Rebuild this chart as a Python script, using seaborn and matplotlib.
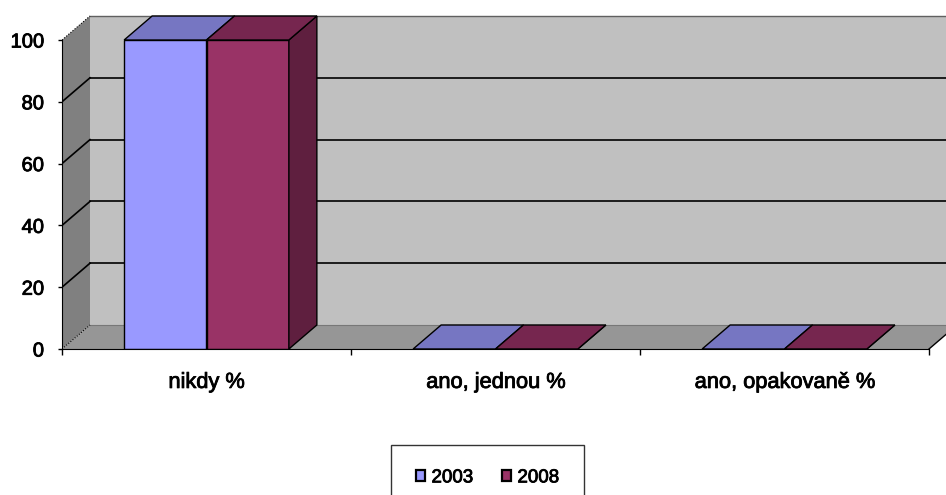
import pandas as pd
import matplotlib
matplotlib.use("Agg")
import matplotlib.pyplot as plt
import matplotlib.patheffects as pe
import seaborn as sns
from matplotlib.patches import Polygon, Rectangle, Patch

# data
kategorie = ['nikdy %', 'ano, jednou %', 'ano, opakovaně %']
roky = ['2003', '2008']
hodnoty_2003 = [100, 0, 0]
hodnoty_2008 = [100, 0, 0]
y_ticks = [0, 20, 40, 60, 80, 100]

barvy_predni = ['#9999FF', '#993366']
barvy_horni = ['#7676C2', '#76264F']
barvy_bocni = ['#6A6AB0', '#5F1F3F']

plt.rcParams['font.family'] = ['Liberation Sans', 'DejaVu Sans']

df = pd.DataFrame({
    'kategorie': kategorie * 2,
    'rok': [roky[0]] * 3 + [roky[1]] * 3,
    'procenta': hodnoty_2003 + hodnoty_2008,
})

W, H = 946, 495
fig = plt.figure(figsize=(W / 100, H / 100), dpi=100)
# axes: front floor line at y=349px, y-axis at x=62px
ax = fig.add_axes([62 / W, (H - 349) / H, (W - 62) / W, (349 - 12) / H])

px_x = 289.0          # pixels per category
px_y = 309.0 / 100    # pixels per percent
dx = 28 / px_x        # depth offset (3D look)
dy = 24 / px_y

sns.barplot(data=df, x='kategorie', y='procenta', hue='rok', palette=barvy_predni,
            width=0.57, edgecolor='black', linewidth=1, saturation=1,
            legend=False, ax=ax, zorder=3)
bars = sorted([p for p in ax.patches if isinstance(p, Rectangle)], key=lambda p: p.get_x())

xmin = -0.5
xmax = -0.5 + (W - 62) / px_x
ax.set_xlim(xmin, xmax)
ax.set_ylim(0, (349 - 12) / px_y)

# walls and floor
ax.add_patch(Polygon([(xmin + dx, dy), (xmax + 1, dy), (xmax + 1, 100 + dy), (xmin + dx, 100 + dy)],
                     closed=True, facecolor='#C0C0C0', edgecolor='none', zorder=0))
ax.add_patch(Polygon([(xmin, 0), (xmin + dx, dy), (xmin + dx, 100 + dy), (xmin, 100)],
                     closed=True, facecolor='#808080', edgecolor='none', zorder=0))
ax.add_patch(Polygon([(xmin, 0), (2.5, 0), (2.5 + dx, dy), (xmin + dx, dy)],
                     closed=True, facecolor='#969696', edgecolor='none', zorder=1))
ax.plot([2.5, 2.5 + dx], [0, dy], color='black', lw=1, zorder=1.5)
ax.plot([xmin + dx, xmax + 1], [dy, dy], color='#777777', lw=0.8, zorder=1.2)

# gridlines on back wall and side wall
for v in y_ticks[1:]:
    ax.plot([xmin + dx, xmax + 1], [v + dy, v + dy],
            color='black' if v < 100 else '#606060', lw=1.2 if v < 100 else 1.0, zorder=1.5)
    if v < 100:
        ax.plot([xmin, xmin + dx], [v, v + dy], color='black', lw=1.2, zorder=1.5)
ax.plot([xmin, xmin + dx], [100, 100 + dy], color='black', lw=0.8, ls=(0, (1, 1.5)), zorder=1.5)
ax.plot([xmin, xmin + dx], [0, dy], color='black', lw=0.8, ls=(0, (1, 1.5)), zorder=1.5)

# 3D top and side faces, painted left to right
for i, p in enumerate(bars):
    x0, w, h = p.get_x(), p.get_width(), p.get_height()
    j = 0 if p.get_facecolor()[2] > 0.7 else 1
    z = 3 + i * 0.01
    p.set_zorder(z)
    ax.add_patch(Polygon([(x0 + w, 0), (x0 + w + dx, dy), (x0 + w + dx, h + dy), (x0 + w, h)],
                         closed=True, facecolor=barvy_bocni[j], edgecolor='black', lw=1, zorder=z))
    ax.add_patch(Polygon([(x0, h), (x0 + w, h), (x0 + w + dx, h + dy), (x0 + dx, h + dy)],
                         closed=True, facecolor=barvy_horni[j], edgecolor='black', lw=1, zorder=z))

# axes styling
for s in ['top', 'right']:
    ax.spines[s].set_visible(False)
ax.spines['left'].set_bounds(0, 100)
ax.spines['bottom'].set_bounds(-0.5, 2.5)
ax.spines['left'].set_zorder(5)
ax.spines['bottom'].set_zorder(5)
ax.set_yticks(y_ticks)
ax.tick_params(axis='y', length=3, width=1, pad=10, labelsize=14.5)
ax.set_xticks(range(len(kategorie)))
ax.set_xticklabels(kategorie)
ax.set_xticks([-0.5, 0.5, 1.5, 2.5], minor=True)
ax.tick_params(axis='x', which='major', length=0, pad=16.5, labelsize=15.7)
ax.tick_params(axis='x', which='minor', length=4, width=1)
ax.set_xlabel('')
ax.set_ylabel('')
ax.grid(False)

# slightly heavier text like the original rendering
tucne = [pe.withStroke(linewidth=0.6, foreground='black')]
for t in ax.get_xticklabels() + ax.get_yticklabels():
    t.set_path_effects(tucne)

handles = [Patch(facecolor=c, edgecolor='black', lw=1.6) for c in barvy_predni]
leg = fig.legend(handles, roky, loc='upper center', bbox_to_anchor=(487.5 / W, 1 - 445 / H),
                 bbox_transform=fig.transFigure, ncol=2, frameon=True, fancybox=False,
                 edgecolor='black', fontsize=13.5, handlelength=0.5, handleheight=0.5,
                 handletextpad=0.35, columnspacing=1.5, borderpad=1.3, borderaxespad=0)
for t in leg.get_texts():
    t.set_path_effects(tucne)

fig.savefig('out.png', dpi=100)
